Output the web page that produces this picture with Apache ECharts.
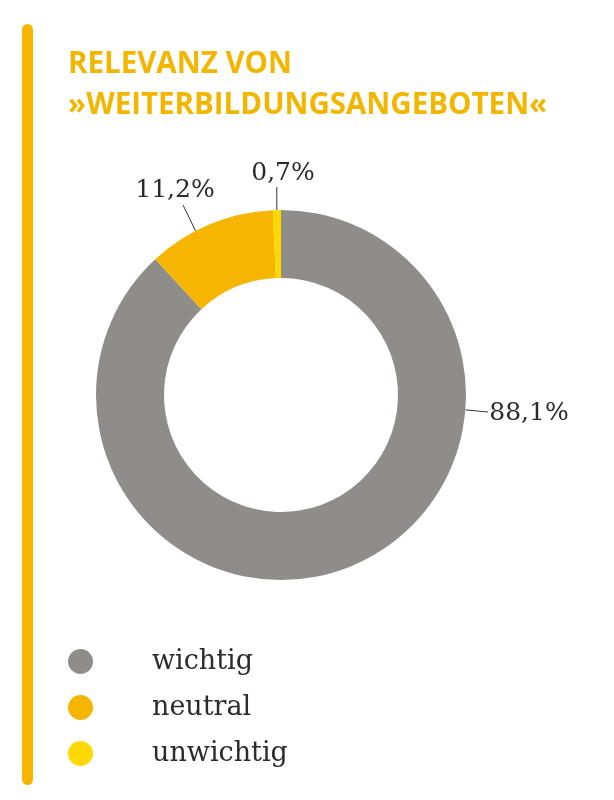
<!DOCTYPE html>
<html>
<head>
<meta charset="utf-8">
<script src="https://cdn.jsdelivr.net/npm/echarts@6/dist/echarts.min.js"></script>
<style>
  html, body { margin: 0; padding: 0; background: #fff; }
  #main { width: 614px; height: 800px; }
</style>
</head>
<body>
<div id="main"></div>
<script>
var categories = ['wichtig', 'neutral', 'unwichtig'];
var values = [88.1, 11.2, 0.7];
var colors = ['#8e8d89', '#f6b500', '#ffd800'];

// label placement: text centre, angle (deg clockwise from top) where the
// guide line leaves the ring, and where it ends
var labelSpots = [[529, 413], [175, 190], [283, 173]];
var lineAngles = [94.6, -27.5, -1.3];
var lineEnds = [[488, 412], [183, 205], [276.8, 187]];

var CX = 281, CY = 395, R_IN = 117, R_OUT = 185;

var myChart = echarts.init(document.getElementById('main'));

var data = [];
for (var i = 0; i < categories.length; i++) {
    data.push({ name: categories[i], value: values[i], itemStyle: { color: colors[i] } });
}

var option = {
    animation: false,
    title: {
        text: 'RELEVANZ VON\n»WEITERBILDUNGSANGEBOTEN«',
        left: 68,
        top: 44,
        padding: 0,
        textStyle: {
            fontFamily: '"Open Sans", sans-serif',
            fontWeight: 'bold',
            fontSize: 29.5,
            lineHeight: 41,
            color: '#f2b600'
        }
    },
    graphic: [
        {
            type: 'rect',
            shape: { x: 22, y: 24, width: 11, height: 761, r: 5.5 },
            style: { fill: '#f6b500' }
        }
    ],
    legend: {
        orient: 'vertical',
        left: 68,
        top: 648,
        padding: 0,
        icon: 'circle',
        itemWidth: 25,
        itemHeight: 25,
        itemGap: 19,
        data: categories,
        textStyle: {
            fontFamily: '"DejaVu Serif", serif',
            fontSize: 27,
            color: '#2b2a2e',
            padding: [0, 0, 0, 54]
        }
    },
    series: [
        {
            type: 'pie',
            center: [CX, CY],
            radius: [R_IN, R_OUT],
            startAngle: 90,
            clockwise: true,
            silent: true,
            data: data,
            label: {
                show: true,
                formatter: function (p) {
                    return String(p.value).replace('.', ',') + '%';
                },
                fontFamily: '"DejaVu Serif", serif',
                fontSize: 25,
                color: '#2b2a2e'
            },
            labelLine: {
                show: true,
                lineStyle: { color: '#333', width: 1 }
            },
            labelLayout: function (params) {
                var k = params.dataIndex;
                var s = labelSpots[k];
                var a = lineAngles[k] * Math.PI / 180;
                var start = [CX + R_OUT * Math.sin(a), CY - R_OUT * Math.cos(a)];
                var end = lineEnds[k];
                var mid = [(start[0] + end[0]) / 2, (start[1] + end[1]) / 2];
                return {
                    x: s[0], y: s[1], align: 'center', verticalAlign: 'middle',
                    labelLinePoints: [start, mid, end]
                };
            }
        }
    ]
};

myChart.setOption(option);
</script>
</body>
</html>
